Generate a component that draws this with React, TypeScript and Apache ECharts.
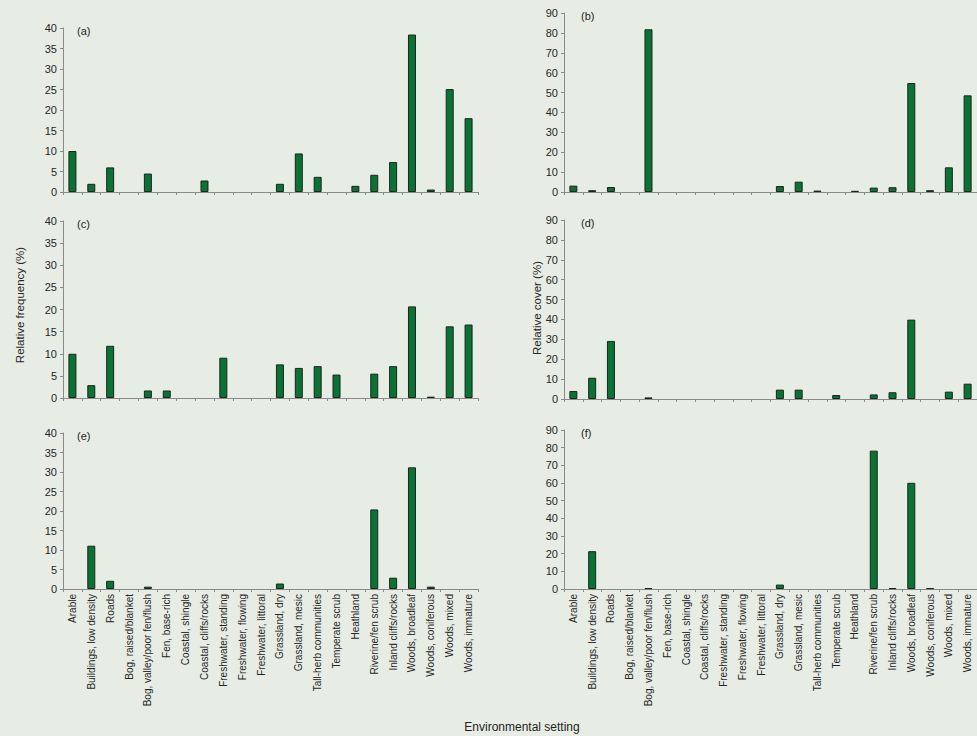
import React, { useEffect, useRef } from "react";
import * as echarts from "echarts";

const categories = [
  "Arable",
  "Buildings, low density",
  "Roads",
  "Bog, raised/blanket",
  "Bog, valley/poor fen/flush",
  "Fen, base-rich",
  "Coastal, shingle",
  "Coastal, cliffs/rocks",
  "Freshwater, standing",
  "Freshwater, flowing",
  "Freshwater, littoral",
  "Grassland, dry",
  "Grassland, mesic",
  "Tall-herb communities",
  "Temperate scrub",
  "Heathland",
  "Riverine/fen scrub",
  "Inland cliffs/rocks",
  "Woods, broadleaf",
  "Woods, coniferous",
  "Woods, mixed",
  "Woods, immature",
];

const panelA = [10.0, 2.0, 6.0, 0, 4.5, 0, 0, 2.8, 0, 0, 0, 2.0, 9.4, 3.7, 0, 1.5, 4.2, 7.3, 38.4, 0.6, 25.1, 18.0];
const panelB = [3.2, 0.9, 2.5, 0, 81.8, 0, 0, 0, 0, 0, 0, 3.0, 5.2, 0.7, 0, 0.6, 2.2, 2.4, 54.8, 0.9, 12.4, 48.6];
const panelC = [10.0, 2.9, 11.8, 0, 1.7, 1.7, 0, 0, 9.1, 0, 0, 7.6, 6.8, 7.2, 5.3, 0, 5.5, 7.2, 20.7, 0.3, 16.2, 16.6];
const panelD = [4.0, 10.7, 29.2, 0, 0.8, 0, 0, 0, 0, 0, 0, 4.7, 4.7, 0, 2.0, 0, 2.3, 3.4, 39.9, 0, 3.7, 7.7];
const panelE = [0, 11.1, 2.1, 0, 0.6, 0, 0, 0, 0, 0, 0, 1.4, 0, 0, 0, 0, 20.4, 2.9, 31.2, 0.6, 0, 0];
const panelF = [0, 21.4, 0, 0, 0.5, 0, 0, 0, 0, 0, 0, 2.5, 0, 0, 0, 0, 78.3, 0.5, 60.1, 0.5, 0, 0];

const panelLabels = ["(a)", "(b)", "(c)", "(d)", "(e)", "(f)"];
const leftAxis = { min: 0, max: 40, interval: 5 };
const rightAxis = { min: 0, max: 90, interval: 10 };
const yTitleLeft = "Relative frequency (%)";
const yTitleRight = "Relative cover (%)";
const xTitle = "Environmental setting";

const FONT = "Liberation Sans, Arial, sans-serif";
const TEXT = "#262626";
const AXIS = "#8a8a8a";

// grid layout in pixels: [left, top, width, height]
const grids = [
  [63, 28, 415, 164],
  [564, 13, 418, 179],
  [63, 221, 415, 177],
  [564, 220, 418, 179],
  [63, 433, 415, 156],
  [564, 430, 418, 159],
];

export default function App() {
  const ref = useRef<HTMLDivElement>(null);
  useEffect(() => {
    if (!ref.current) return;
    const chart = echarts.init(ref.current, undefined, { renderer: "svg" });
    const panels = [panelA, panelB, panelC, panelD, panelE, panelF];
    const option: any = {
      animation: false,
      backgroundColor: "#e7ede5",
      textStyle: { fontFamily: FONT },
      grid: grids.map((g) => ({ left: g[0], top: g[1], width: g[2], height: g[3], containLabel: false })),
      xAxis: panels.map((_, i) => ({
        type: "category",
        gridIndex: i,
        data: categories,
        boundaryGap: true,
        axisLine: { lineStyle: { color: AXIS, width: 1 } },
        axisTick: { show: true, length: 3, interval: 0, lineStyle: { color: AXIS } },
        axisLabel: {
          show: i >= 4,
          interval: 0,
          rotate: 90,
          fontSize: 10,
          color: TEXT,
          margin: 5,
          fontFamily: FONT,
        },
      })),
      yAxis: panels.map((_, i) => {
        const ax = i % 2 === 0 ? leftAxis : rightAxis;
        return {
          type: "value",
          gridIndex: i,
          min: ax.min,
          max: ax.max,
          interval: ax.interval,
          splitLine: { show: false },
          axisLine: { show: true, lineStyle: { color: AXIS, width: 1 } },
          axisTick: { show: true, length: 3, lineStyle: { color: AXIS } },
          axisLabel: { fontSize: 11, color: TEXT, margin: 6, fontFamily: FONT },
        };
      }),
      series: panels.map((vals, i) => ({
        type: "bar",
        xAxisIndex: i,
        yAxisIndex: i,
        data: vals.map((v) => (v === 0 ? null : v)),
        barWidth: 8,
        itemStyle: { color: "#0b7236", borderColor: "#18261c", borderWidth: 1 },
      })),
      graphic: [
        ...panelLabels.map((t, i) => ({
          type: "text",
          x: grids[i][0] + (i % 2 === 0 ? 14 : 17),
          y: grids[i][1] + 3,
          style: { text: t, fontSize: 11, fill: "#1e1e1e", fontFamily: FONT, textVerticalAlign: "middle" },
        })),
        {
          type: "text",
          x: 20,
          y: 305,
          rotation: Math.PI / 2,
          style: { text: yTitleLeft, fontSize: 11.5, fill: TEXT, fontFamily: FONT, textAlign: "center", textVerticalAlign: "middle" },
        },
        {
          type: "text",
          x: 537,
          y: 308,
          rotation: Math.PI / 2,
          style: { text: yTitleRight, fontSize: 11.5, fill: TEXT, fontFamily: FONT, textAlign: "center", textVerticalAlign: "middle" },
        },
        {
          type: "text",
          x: 522,
          y: 727,
          style: { text: xTitle, fontSize: 12, fill: "#1e1e1e", fontFamily: FONT, textAlign: "center", textVerticalAlign: "middle" },
        },
      ],
    };
    chart.setOption(option);
    return () => chart.dispose();
  }, []);
  return (
    <div
      ref={ref}
      style={{ position: "fixed", left: 0, top: 0, width: 977, height: 736 }}
    />
  );
}
